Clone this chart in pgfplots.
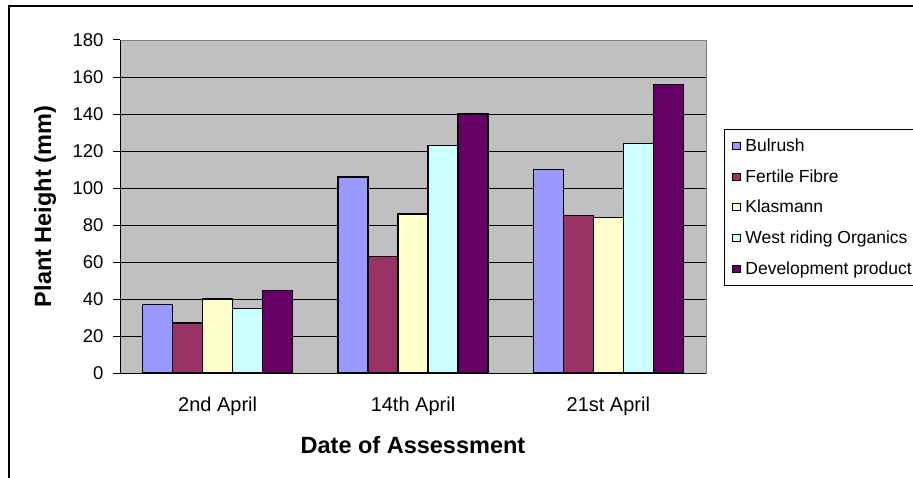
\documentclass[border=0pt]{standalone}
\usepackage{pgfplots}
\pgfplotsset{compat=1.18}
\usepackage{fontspec}
\setmainfont{Liberation Sans}
\definecolor{cBul}{HTML}{9999FF}
\definecolor{cFer}{HTML}{993366}
\definecolor{cKla}{HTML}{FFFFCC}
\definecolor{cWes}{HTML}{CCFFFF}
\definecolor{cDev}{HTML}{660066}
\definecolor{plotbg}{HTML}{C0C0C0}
\begin{document}
\begin{tikzpicture}[x=1pt,y=1pt]
\path[use as bounding box, clip] (0,0) rectangle (913,477);
\fill[white] (0,0) rectangle (913,477);
\begin{axis}[
  at={(120pt,104pt)}, anchor=south west,
  width=586pt, height=333pt, scale only axis,
  ybar=0pt, bar width=30pt,
  xmin=-0.5, xmax=2.5, ymin=0, ymax=180,
  axis background/.style={fill=plotbg, draw=gray},
  axis x line=bottom, axis y line=left,
  axis line style={-, black, line width=1pt},
  xtick={0,1,2}, xticklabels={2nd April,14th April,21st April},
  major x tick style={draw=none},
  extra x ticks={-0.5,0.5,1.5,2.5}, extra x tick labels={},
  extra x tick style={major tick length=7pt, tick align=outside, grid=none, major tick style={draw=black, line width=1pt}},
  ytick={0,20,...,160},
  extra y ticks={180}, extra y tick style={grid=none},
  ymajorgrids, major grid style={black, line width=0.8pt},
  y tick style={black, line width=1pt},
  tick align=outside, major tick length=7pt,
  /pgf/number format/assume math mode=true,
  ticklabel style={font=\fontsize{18.5}{22}\selectfont},
  xticklabel style={yshift=-13pt, font=\fontsize{20}{24}\selectfont},
  yticklabel style={xshift=-6pt},
  xlabel={\textbf{Date of Assessment}},
  ylabel={\textbf{Plant Height (mm)}},
  xlabel style={font=\fontsize{23.5}{27}\selectfont, at={(axis description cs:0.5,-0.216)}, anchor=center},
  ylabel style={font=\fontsize{23.5}{27}\selectfont, at={(axis description cs:-0.128,0.5)}, anchor=center},
  legend style={at={(axis description cs:1.0307,0.7327)}, anchor=north west,
    draw=black, line width=0.8pt, font=\fontsize{17.5}{21}\selectfont,
    row sep=12.5pt, inner ysep=7.5pt, inner xsep=8pt},
  legend cell align=left,
  every axis plot post/.append style={draw=black, line width=1.2pt,
    legend image code/.code={\draw[##1, line width=0.8pt] (0pt,-3.5pt) rectangle (7.5pt,3.5pt); \path (10pt,0pt);}},
]
\addplot[fill=cBul] coordinates {(0,37) (1,106) (2,110)};
\addplot[fill=cFer] coordinates {(0,27) (1,63) (2,85)};
\addplot[fill=cKla] coordinates {(0,40) (1,86) (2,84)};
\addplot[fill=cWes] coordinates {(0,35) (1,123) (2,124)};
\addplot[fill=cDev] coordinates {(0,44.5) (1,140) (2,156)};
\legend{Bulrush,Fertile Fibre,Klasmann,West riding Organics,Development product}
\end{axis}
\draw[line width=2pt] (9,-5) -- (9,471) -- (920,471);
\end{tikzpicture}
\end{document}
